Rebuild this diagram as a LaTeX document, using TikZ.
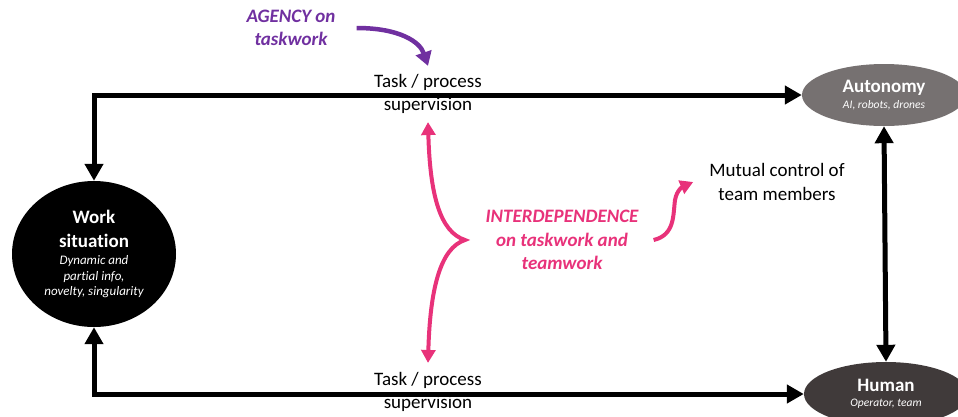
\documentclass[tikz,border=0pt]{standalone}
\usepackage{fontspec}
\setmainfont{Carlito}[Ligatures=NoCommon]
\usetikzlibrary{arrows.meta,calc,shapes.geometric}
\definecolor{PinkClr}{RGB}{232,50,122}
\definecolor{PurpleClr}{RGB}{112,48,160}
\definecolor{AutoClr}{RGB}{118,113,113}
\definecolor{HumanClr}{RGB}{64,58,58}

\begin{document}
\begin{tikzpicture}[x=1pt,y=-1pt,
  big/.style={font=\fontsize{19}{23.5}\selectfont,align=center,inner sep=1pt},
  accent/.style={font=\fontsize{19}{23.5}\selectfont\bfseries\itshape,align=center,inner sep=1pt},
  blob/.style={ellipse,text=white,inner sep=0pt,align=center,font=\fontsize{19}{23.5}\selectfont},
  flow/.style={line width=5pt,{Triangle[length=17pt,width=18pt]}-{Triangle[length=17pt,width=18pt]}},
  pinkline/.style={PinkClr,line width=4pt}]
\useasboundingbox (0,0) rectangle (958,416);

\node[blob,fill=black,minimum width=164pt,minimum height=146pt] (Work) at (94,254)
  {\textbf{Work}\\\textbf{situation}\\[-6pt]
   {\fontsize{13}{15.5}\selectfont\itshape Dynamic and}\\[-8pt]
   {\fontsize{13}{15.5}\selectfont\itshape partial info,}\\[-8pt]
   {\fontsize{13}{15.5}\selectfont\itshape novelty, singularity}};
\node[blob,fill=AutoClr,minimum width=164pt,minimum height=62pt] (Auto) at (884,95)
  {\textbf{Autonomy}\\[-8pt]{\fontsize{11.5}{13}\selectfont\itshape AI, robots, drones}};
\node[blob,fill=HumanClr,minimum width=164pt,minimum height=64pt] (Human) at (886,394)
  {\textbf{Human}\\[-8pt]{\fontsize{11.5}{13}\selectfont\itshape Operator, team}};

\node[big] (TopTask) at (428,94) {Task / process\\supervision};
\node[big] (BotTask) at (428,392) {Task / process\\supervision};
\node[accent,PurpleClr] (Agency) at (291,28) {AGENCY on\\taskwork};
\node[accent,PinkClr] (Inter) at (562,240) {INTERDEPENDENCE\\on taskwork and\\teamwork};
\node[big] (Mutual) at (777,182) {Mutual control of\\team members};

\draw[flow] (Work.north) |- (Auto.west);
\draw[flow] (Work.south) |- (Human.west);
\draw[flow] (Auto.south) -- (Human.north);

\coordinate (BraceTip) at (465,240);
\draw[pinkline,{Triangle[length=13pt,width=14pt]}-{Triangle[length=13pt,width=14pt]}]
  ($(TopTask.south)+(0,7)$) .. controls (430,195) and (440,232) .. (BraceTip)
  .. controls (440,248) and (430,290) .. ($(BotTask.north)+(0,-8)$);
\draw[pinkline,-{Triangle[length=13pt,width=14pt]}]
  ($(Inter.east)+(14,0)$) .. controls (675,235) and (673,215) .. (675,200)
  .. controls (677,189) and (684,186) .. ($(Mutual.west)+(-15,0)$);
\draw[PurpleClr,line width=4.5pt,-{Triangle[length=14pt,width=16pt]}]
  ($(Agency.east)+(20,0)$) .. controls (400,28) and (420,42) .. ($(TopTask.north)+(0,-7)$);

\end{tikzpicture}
\end{document}
